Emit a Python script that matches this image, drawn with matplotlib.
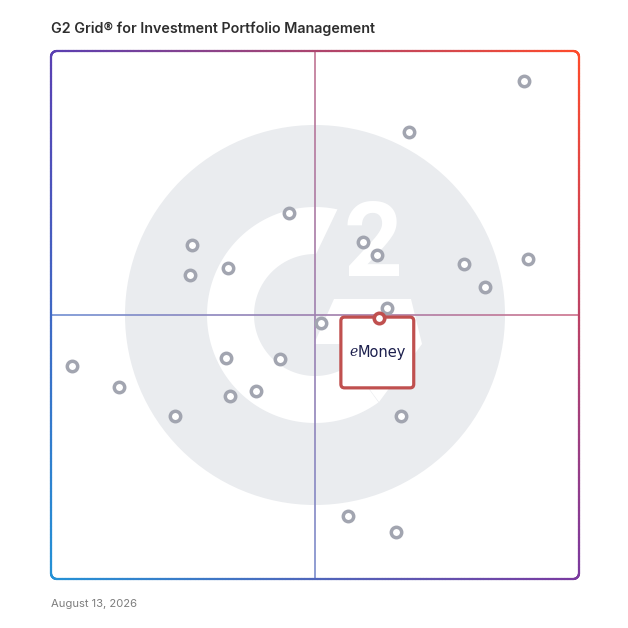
import numpy as np
import matplotlib.pyplot as plt
from matplotlib.collections import LineCollection
from matplotlib.patches import Circle, Polygon, FancyBboxPatch

title = "G2 Grid® for Investment Portfolio Management"
date_label = "August 13, 2026"

# x = satisfaction, y = market presence (0-100 scale, mid lines at 50)
satisfaction = [89.6, 67.8, 45.1, 26.7, 26.3, 33.5, 59.1, 61.7, 78.2, 90.3, 82.2, 63.6,
                51.1, 4.0, 12.9, 33.1, 43.4, 33.9, 38.8, 23.5, 66.3, 56.3, 65.3]
presence = [94.3, 84.7, 69.3, 63.3, 57.6, 58.9, 63.8, 61.4, 59.7, 60.6, 55.3, 51.3,
            48.5, 40.3, 36.4, 41.9, 41.7, 34.7, 35.6, 30.9, 30.9, 11.9, 8.9]

highlight_name = "eMoney"
highlight_x = 62.1
highlight_y = 49.4

# corner colours of the gradient frame
c_tl = np.array([0x5a, 0x3f, 0xb2]) / 255
c_tr = np.array([0xff, 0x4b, 0x2b]) / 255
c_bl = np.array([0x24, 0x92, 0xd6]) / 255
c_br = np.array([0x7a, 0x3a, 0xa0]) / 255


def field(u, v):
    top = c_tl * (1 - u)[:, None] + c_tr * u[:, None]
    bot = c_bl * (1 - u)[:, None] + c_br * u[:, None]
    return bot * (1 - v)[:, None] + top * v[:, None]


def densify(pts, step=0.3):
    out = []
    for a, b in zip(pts[:-1], pts[1:]):
        n = max(1, int(np.hypot(*(b - a)) / step))
        t = np.linspace(0, 1, n, endpoint=False)[:, None]
        out.append(a + (b - a) * t)
    out.append(pts[-1:])
    return np.vstack(out)


def rounded_rect(x0, y0, x1, y1, r, n=20):
    pts = []
    for cx, cy, a0, a1 in [(x1 - r, y1 - r, 0, 90), (x0 + r, y1 - r, 90, 180),
                           (x0 + r, y0 + r, 180, 270), (x1 - r, y0 + r, 270, 360)]:
        a = np.radians(np.linspace(a0, a1, n))
        pts.append(np.column_stack([cx + r * np.cos(a), cy + r * np.sin(a)]))
    pts.append(pts[0][:1])
    return np.vstack(pts)


def gradient_line(ax, pts, lw, fade=0.0, z=3, cap='round'):
    pts = densify(pts)
    segs = np.stack([pts[:-1], pts[1:]], axis=1)
    mid = segs.mean(axis=1) / 100.0
    cols = field(np.clip(mid[:, 0], 0, 1), np.clip(mid[:, 1], 0, 1))
    cols = cols * (1 - fade) + fade
    lc = LineCollection(segs, colors=cols, linewidths=lw,
                        zorder=z, clip_on=False, capstyle=cap)
    ax.add_collection(lc)


fig = plt.figure(figsize=(6.28, 6.28), dpi=100)
ax = fig.add_axes([51 / 628, 49 / 628, 528 / 628, 528 / 628])
ax.set_xlim(0, 100)
ax.set_ylim(0, 100)
ax.axis('off')

# G2 watermark
s = 1 / 5.28
cx, cy = 50, 50
ax.add_patch(Circle((cx, cy), 190 * s, fc='#eaecef', ec='none', zorder=0))
ro, ri = 108 * s, 61 * s
ao = np.radians(np.linspace(78, 306, 120))
ai = np.radians(np.linspace(306, 89, 120))
ring = np.vstack([np.column_stack([cx + ro * np.cos(ao), cy + ro * np.sin(ao)]),
                  np.column_stack([cx + ri * np.cos(ai), cy + ri * np.sin(ai)])])
ax.add_patch(Polygon(ring, closed=True, fc='white', ec='none', zorder=1))
chev_px = [(19, -16), (96, -16), (107, 29), (64, 87), (36, 49), (51, 29), (-1, 29)]
chev = [(cx + dx * s, cy - dy * s) for dx, dy in chev_px]
ax.add_patch(Polygon(chev, closed=True, fc='white', ec='none', zorder=1))
ax.text(cx + 58 * s, cy + 67 * s, "2", color='white', fontsize=74, fontweight='bold',
        family='Roboto', ha='center', va='center', zorder=1)

# quadrant lines and frame
gradient_line(ax, np.array([[50, 0], [50, 100]]), 1.2, fade=0.25, z=2, cap='butt')
gradient_line(ax, np.array([[0, 50], [100, 50]]), 1.2, fade=0.25, z=2, cap='butt')
gradient_line(ax, rounded_rect(0, 0, 100, 100, 1.1), 1.6, z=3)

# vendors
ax.plot(satisfaction, presence, 'o', ms=7.5, mfc='white', mec='#a2a5b0', mew=2.5,
        clip_on=False, zorder=5)

# highlighted vendor card
bw, bh = 13.8, 13.4
ax.add_patch(FancyBboxPatch((highlight_x - bw / 2 - 0.3, highlight_y + 0.2 - bh), bw, bh,
                            boxstyle='round,pad=0,rounding_size=0.7', fc='white',
                            ec='#c0504f', lw=2.3, zorder=6, clip_on=False))
ty = highlight_y + 0.2 - bh / 2
ax.text(highlight_x - 4.0, ty, "e", family='DejaVu Serif', style='italic', fontsize=10,
        color='#1c1f4d', ha='right', va='center', zorder=7)
ax.text(highlight_x - 4.0, ty, highlight_name[1:], family='DejaVu Sans', fontsize=10.5,
        color='#1c1f4d', ha='left', va='center', zorder=7)
ax.plot([highlight_x], [highlight_y], 'o', ms=7.5, mfc='white', mec='#c0504f', mew=2.6,
        clip_on=False, zorder=8)

fig.text(51 / 628, 1 - 29 / 628, title, ha='left', va='center', fontsize=10.3,
         fontweight='semibold', family='Inter', color='#2e2e2e')
fig.text(51 / 628, 1 - 604 / 628, date_label, ha='left', va='center', fontsize=8.1,
         family='Inter', color='#7d7d7d')

fig.savefig('out.png', dpi=100, facecolor='white')
